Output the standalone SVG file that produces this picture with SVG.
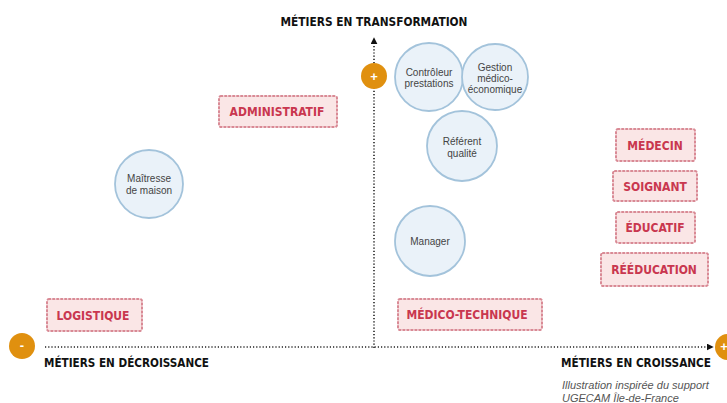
<svg xmlns="http://www.w3.org/2000/svg" width="727" height="403" viewBox="0 0 727 403">
  <defs>
    <style>
      .axis { stroke: #222; stroke-width: 1.6; stroke-dasharray: 1.2 2; fill: none; }
      .title { font-family: "DejaVu Sans Condensed", "DejaVu Sans", sans-serif; font-weight: bold; font-size: 13px; fill: #111; }
      .circle { fill: #EAF2F9; stroke: #A3C3DB; stroke-width: 1.8; }
      .ctext { font-family: "Liberation Sans", Arial, sans-serif; font-size: 10px; fill: #444; text-anchor: middle; }
      .box { fill: #FAE6E6; stroke: #D98A95; stroke-width: 2; stroke-dasharray: 1.5 2.5; stroke-linecap: round; }
      .btext { font-family: "DejaVu Sans Condensed", "DejaVu Sans", sans-serif; font-weight: bold; font-size: 12px; fill: #C9374F; text-anchor: middle; }
      .dot { fill: #E0900F; }
      .sign { fill: #fff; font-family: "Liberation Sans", Arial, sans-serif; font-weight: bold; font-size: 13px; text-anchor: middle; }
      .note { font-family: "Liberation Sans", Arial, sans-serif; font-style: italic; font-size: 11px; fill: #555; }
    </style>
    <marker id="arrow" viewBox="0 0 10 10" refX="9" refY="5" markerWidth="7" markerHeight="7" markerUnits="userSpaceOnUse" orient="auto">
      <path d="M0,0 L10,5 L0,10 z" fill="#111"/>
    </marker>
  </defs>
  <rect width="727" height="403" fill="#fff"/>

  <!-- axes -->
  <g id="connectors">
    <line class="axis" x1="374" y1="348" x2="374" y2="38" marker-end="url(#arrow)"/>
    <line class="axis" x1="45" y1="347" x2="713" y2="347" marker-end="url(#arrow)"/>
  </g>

  <!-- axis end markers -->
  <g id="minus-marker">
    <circle class="dot" cx="22" cy="346" r="13"/>
    <text class="sign" x="22" y="350">-</text>
  </g>
  <g id="plus-top">
    <circle class="dot" cx="374" cy="76" r="13"/>
    <text class="sign" x="374" y="80.5">+</text>
  </g>
  <g id="plus-right">
    <circle class="dot" cx="728" cy="347" r="13"/>
    <text class="sign" x="724" y="351" font-size="12">+</text>
  </g>

  <!-- axis titles -->
  <text class="title" x="374" y="26" text-anchor="middle" textLength="187" lengthAdjust="spacingAndGlyphs">MÉTIERS EN TRANSFORMATION</text>
  <text class="title" x="44" y="367" textLength="165" lengthAdjust="spacingAndGlyphs">MÉTIERS EN DÉCROISSANCE</text>
  <text class="title" x="561" y="367" textLength="150" lengthAdjust="spacingAndGlyphs">MÉTIERS EN CROISSANCE</text>

  <!-- note -->
  <text class="note" x="562" y="389">Illustration inspirée du support</text>
  <text class="note" x="562" y="402">UGECAM Île-de-France</text>

  <!-- circles -->
  <g id="maitresse">
    <circle class="circle" cx="149" cy="184" r="34"/>
    <text class="ctext" x="149" y="182">Maîtresse</text>
    <text class="ctext" x="149" y="194">de maison</text>
  </g>
  <g id="controleur">
    <circle class="circle" cx="429" cy="77" r="34"/>
    <text class="ctext" x="429" y="76">Contrôleur</text>
    <text class="ctext" x="429" y="87">prestations</text>
  </g>
  <g id="gestion">
    <circle class="circle" cx="495" cy="77" r="33"/>
    <text class="ctext" x="495" y="71">Gestion</text>
    <text class="ctext" x="495" y="82">médico-</text>
    <text class="ctext" x="495" y="93">économique</text>
  </g>
  <g id="referent">
    <circle class="circle" cx="462" cy="146" r="35"/>
    <text class="ctext" x="462" y="145">Référent</text>
    <text class="ctext" x="462" y="157">qualité</text>
  </g>
  <g id="manager">
    <circle class="circle" cx="430" cy="241" r="35"/>
    <text class="ctext" x="430" y="245">Manager</text>
  </g>

  <!-- category boxes -->
  <g id="administratif">
    <rect class="box" x="219" y="96" width="118" height="31" rx="2"/>
    <text class="btext" x="277" y="116">ADMINISTRATIF</text>
  </g>
  <g id="logistique">
    <rect class="box" x="47" y="299" width="95" height="32" rx="2"/>
    <text class="btext" x="93" y="320">LOGISTIQUE</text>
  </g>
  <g id="medico-technique">
    <rect class="box" x="398" y="299" width="144" height="31" rx="2"/>
    <text class="btext" x="467" y="319">MÉDICO-TECHNIQUE</text>
  </g>
  <g id="medecin">
    <rect class="box" x="616" y="129" width="79" height="32" rx="2"/>
    <text class="btext" x="655" y="150">MÉDECIN</text>
  </g>
  <g id="soignant">
    <rect class="box" x="613" y="171" width="84" height="30" rx="2"/>
    <text class="btext" x="655" y="190.5">SOIGNANT</text>
  </g>
  <g id="educatif">
    <rect class="box" x="616" y="212" width="79" height="31" rx="2"/>
    <text class="btext" x="655" y="232">ÉDUCATIF</text>
  </g>
  <g id="reeducation">
    <rect class="box" x="601" y="253" width="107" height="33" rx="2"/>
    <text class="btext" x="654" y="274">RÉÉDUCATION</text>
  </g>
</svg>
